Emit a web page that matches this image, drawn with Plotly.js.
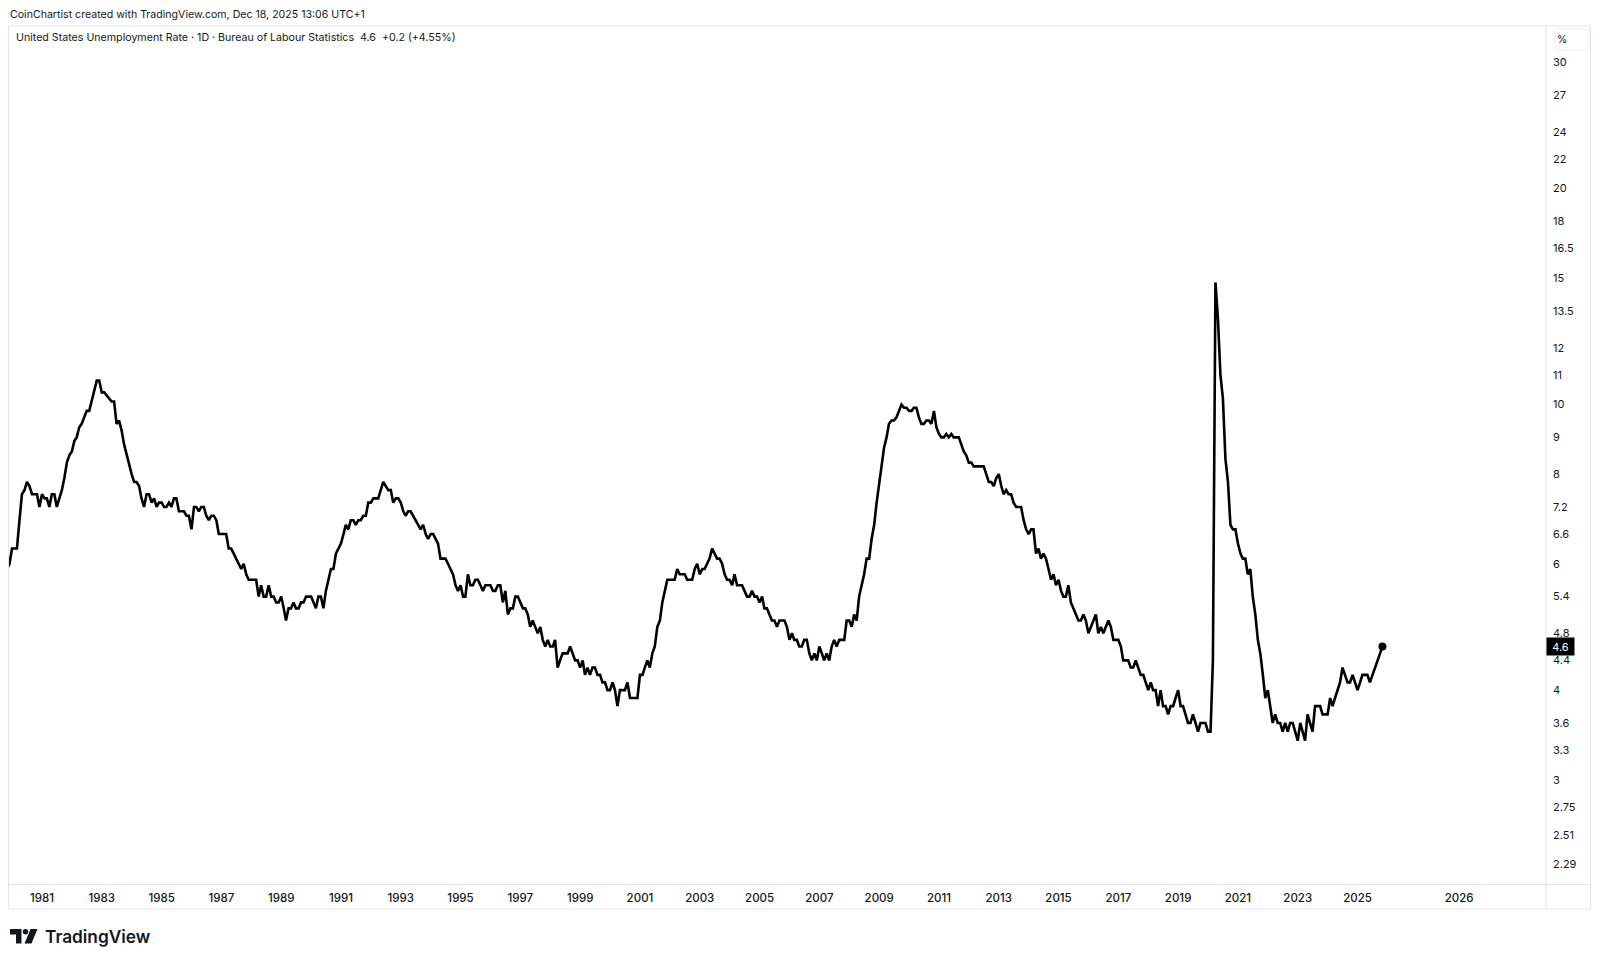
<!DOCTYPE html>
<html>
<head>
<meta charset="utf-8">
<script src="https://cdn.plot.ly/plotly-3.0.1.min.js"></script>
<style>
html,body{margin:0;padding:0;background:#fff;}
#chart{width:1600px;height:962px;}
</style>
</head>
<body>
<div id="chart"></div>
<script>
// Monthly US unemployment rate (%), each array starts in January of its first year
const rates1979to1989 = [
 5.9,5.9,5.8,5.8,5.6,5.7,5.7,6.0,5.9,6.0,5.9,6.0,
 6.3,6.3,6.3,6.9,7.5,7.6,7.8,7.7,7.5,7.5,7.5,7.2,
 7.5,7.4,7.4,7.2,7.5,7.5,7.2,7.4,7.6,7.9,8.3,8.5,
 8.6,8.9,9.0,9.3,9.4,9.6,9.8,9.8,10.1,10.4,10.8,10.8,
 10.4,10.4,10.3,10.2,10.1,10.1,9.4,9.5,9.2,8.8,8.5,8.3,
 8.0,7.8,7.8,7.7,7.4,7.2,7.5,7.5,7.3,7.4,7.2,7.3,
 7.3,7.2,7.2,7.3,7.2,7.4,7.4,7.1,7.1,7.1,7.0,7.0,
 6.7,7.2,7.2,7.1,7.2,7.2,7.0,6.9,7.0,7.0,6.9,6.6,
 6.6,6.6,6.6,6.3,6.3,6.2,6.1,6.0,5.9,6.0,5.8,5.7,
 5.7,5.7,5.7,5.4,5.6,5.4,5.4,5.6,5.4,5.4,5.3,5.3,
 5.4,5.2,5.0,5.2,5.2,5.3,5.2,5.2,5.3,5.3,5.4,5.4
];
const rates1990to1999 = [
 5.4,5.3,5.2,5.4,5.4,5.2,5.5,5.7,5.9,5.9,6.2,6.3,
 6.4,6.6,6.8,6.7,6.9,6.9,6.8,6.9,6.9,7.0,7.0,7.3,
 7.3,7.4,7.4,7.4,7.6,7.8,7.7,7.6,7.6,7.3,7.4,7.4,
 7.3,7.1,7.0,7.1,7.1,7.0,6.9,6.8,6.7,6.8,6.6,6.5,
 6.6,6.6,6.5,6.4,6.1,6.1,6.1,6.0,5.9,5.8,5.6,5.5,
 5.6,5.4,5.4,5.8,5.6,5.6,5.7,5.7,5.6,5.5,5.6,5.6,
 5.6,5.5,5.5,5.6,5.6,5.3,5.5,5.1,5.2,5.2,5.4,5.4,
 5.3,5.2,5.2,5.1,4.9,5.0,4.9,4.8,4.9,4.7,4.6,4.7,
 4.6,4.6,4.7,4.3,4.4,4.5,4.5,4.5,4.6,4.5,4.4,4.4,
 4.3,4.4,4.2,4.3,4.2,4.3,4.3,4.2,4.2,4.1,4.1,4.0
];
const rates2000to2009 = [
 4.0,4.1,4.0,3.8,4.0,4.0,4.0,4.1,3.9,3.9,3.9,3.9,
 4.2,4.2,4.3,4.4,4.3,4.5,4.6,4.9,5.0,5.3,5.5,5.7,
 5.7,5.7,5.7,5.9,5.8,5.8,5.8,5.7,5.7,5.7,5.9,6.0,
 5.8,5.9,5.9,6.0,6.1,6.3,6.2,6.1,6.1,6.0,5.8,5.7,
 5.7,5.6,5.8,5.6,5.6,5.6,5.5,5.4,5.4,5.5,5.4,5.4,
 5.3,5.4,5.2,5.2,5.1,5.0,5.0,4.9,5.0,5.0,5.0,4.9,
 4.7,4.8,4.7,4.7,4.6,4.6,4.7,4.7,4.5,4.4,4.5,4.4,
 4.6,4.5,4.4,4.5,4.4,4.6,4.7,4.6,4.7,4.7,4.7,5.0,
 5.0,4.9,5.1,5.0,5.4,5.6,5.8,6.1,6.1,6.5,6.8,7.3,
 7.8,8.3,8.7,9.0,9.4,9.5,9.5,9.6,9.8,10.0,9.9,9.9
];
const rates2010to2019 = [
 9.8,9.8,9.9,9.9,9.6,9.4,9.4,9.5,9.5,9.4,9.8,9.3,
 9.1,9.0,9.0,9.1,9.0,9.1,9.0,9.0,9.0,8.8,8.6,8.5,
 8.3,8.3,8.2,8.2,8.2,8.2,8.2,8.0,7.8,7.8,7.7,7.9,
 8.0,7.7,7.5,7.6,7.5,7.5,7.3,7.2,7.2,7.2,6.9,6.7,
 6.6,6.7,6.7,6.2,6.3,6.1,6.2,6.1,5.9,5.7,5.8,5.6,
 5.7,5.5,5.4,5.4,5.6,5.3,5.2,5.1,5.0,5.0,5.1,5.0,
 4.8,4.9,5.0,5.1,4.8,4.9,4.8,4.9,5.0,4.9,4.7,4.7,
 4.7,4.6,4.4,4.4,4.4,4.3,4.3,4.4,4.3,4.2,4.2,4.1,
 4.0,4.1,4.0,4.0,3.8,4.0,3.8,3.8,3.7,3.8,3.8,3.9,
 4.0,3.8,3.8,3.7,3.6,3.6,3.7,3.6,3.5,3.6,3.6,3.6
];
// October 2025 was not published (null = no data point)
const rates2020to2025 = [
 3.5,3.5,4.4,14.8,13.2,11.0,10.2,8.4,7.8,6.8,6.7,6.7,
 6.4,6.2,6.1,6.1,5.8,5.9,5.4,5.1,4.7,4.5,4.2,3.9,
 4.0,3.8,3.6,3.7,3.6,3.6,3.5,3.6,3.5,3.6,3.6,3.5,
 3.4,3.6,3.5,3.4,3.7,3.6,3.5,3.8,3.8,3.8,3.7,3.7,
 3.7,3.9,3.8,3.9,4.0,4.1,4.3,4.2,4.1,4.1,4.2,4.1,
 4.0,4.1,4.2,4.2,4.2,4.1,4.2,4.3,4.4,null,4.6
];
const firstYear = 1979;

const yTickVals = [2.29,2.51,2.75,3,3.3,3.6,4,4.4,4.8,5.4,6,6.6,7.2,8,9,10,11,12,13.5,15,16.5,18,20,22,24,27,30];
const xTickYears = [1981,1983,1985,1987,1989,1991,1993,1995,1997,1999,2001,2003,2005,2007,2009,2011,2013,2015,2017,2019,2021,2023,2025];
const futureTickDate = '2028-05-25';
const futureTickLabel = '2026';

const titleText = 'United States Unemployment Rate · 1D · Bureau of Labour Statistics';
const lastValueText = '4.6';
const changeText = '+0.2 (+4.55%)';

// build series
const allRates = [].concat(rates1979to1989, rates1990to1999, rates2000to2009, rates2010to2019, rates2020to2025);
const xs = [], ys = [];
allRates.forEach((v, i) => {
  if (v === null) return;
  const yr = firstYear + Math.floor(i / 12);
  const m = (i % 12) + 1;
  xs.push(yr + '-' + String(m).padStart(2, '0') + '-01');
  ys.push(v);
});
const lastX = xs[xs.length - 1], lastY = ys[ys.length - 1];

// pixel helpers for decorations (plot area: x 9..1546, y 26..884)
const L = 9, R = 1546, T = 26, B = 884;
const px = x => (x - L) / (R - L);
const py = y => (B - y) / (B - T);

const FONT = 'Inter, "Open Sans", Roboto, sans-serif';
const TXT = '#131722';
const BORDER = '#e0e3eb';

const traces = [
  {x: xs, y: ys, type: 'scatter', mode: 'lines',
   line: {color: '#000', width: 2.6, shape: 'linear'}, hoverinfo: 'skip', showlegend: false},
  {x: [lastX], y: [lastY], type: 'scatter', mode: 'markers',
   marker: {color: '#000', size: 8}, hoverinfo: 'skip', showlegend: false}
];

function pathPx(pts) {
  return 'M' + pts.map(p => px(p[0]) + ',' + py(p[1])).join(' L') + ' Z';
}

const shapes = [
  {type: 'rect', xref: 'paper', yref: 'paper', x0: px(8.5), x1: px(1590.5), y0: py(26), y1: py(909),
   line: {color: BORDER, width: 1}},
  {type: 'line', xref: 'paper', yref: 'paper', x0: px(1546), x1: px(1546), y0: py(26), y1: py(909),
   line: {color: BORDER, width: 1}},
  {type: 'line', xref: 'paper', yref: 'paper', x0: px(8.5), x1: px(1590.5), y0: py(884.5), y1: py(884.5),
   line: {color: BORDER, width: 1}},
  // % box
  {type: 'rect', xref: 'paper', yref: 'paper', x0: px(1555), x1: px(1589), y0: py(29), y1: py(50),
   line: {color: '#eef0f4', width: 1}},
  // TradingView logo
  {type: 'path', xref: 'paper', yref: 'paper', fillcolor: TXT, line: {width: 0},
   path: pathPx([[10,929],[21.5,929],[21.5,943.5],[16,943.5],[16,934.5],[10,934.5]])},
  {type: 'circle', xref: 'paper', yref: 'paper', x0: px(22.8), x1: px(28.2), y0: py(929), y1: py(934.4),
   fillcolor: TXT, line: {width: 0}},
  {type: 'path', xref: 'paper', yref: 'paper', fillcolor: TXT, line: {width: 0},
   path: pathPx([[30.5,929],[37.5,929],[31.5,943.5],[24.5,943.5]])}
];

const annotations = [
  {xref: 'paper', yref: 'paper', x: px(8), y: py(14), xanchor: 'left', yanchor: 'middle', showarrow: false,
   text: 'CoinChartist created with TradingView.com, Dec 18, 2025 13:06 UTC+1',
   font: {family: FONT, size: 10.6, color: TXT}},
  {xref: 'paper', yref: 'paper', x: px(14), y: py(38), xanchor: 'left', yanchor: 'middle', showarrow: false,
   text: titleText + '&nbsp;&nbsp;' + lastValueText + '&nbsp;&nbsp;' + changeText,
   font: {family: FONT, size: 10.65, color: TXT}},
  {xref: 'paper', yref: 'paper', x: px(1562), y: py(39.5), xanchor: 'center', yanchor: 'middle', showarrow: false,
   text: '%', font: {family: FONT, size: 10.5, color: TXT}},
  {xref: 'paper', yref: 'y', x: px(1546), y: Math.log10(lastY), xanchor: 'left', yanchor: 'middle', showarrow: false,
   text: lastValueText, bgcolor: '#000', borderpad: 1.5, font: {family: FONT, size: 11, color: '#fff'},
   width: 24},
  {xref: 'paper', yref: 'paper', x: px(43), y: py(936), xanchor: 'left', yanchor: 'middle', showarrow: false,
   text: 'TradingView', font: {family: FONT, size: 17.3, color: TXT, weight: 600}}
];

const layout = {
  width: 1600, height: 962,
  margin: {l: L, r: 1600 - R, t: T, b: 962 - B, pad: 0},
  paper_bgcolor: '#fff', plot_bgcolor: '#fff',
  showlegend: false,
  xaxis: {
    type: 'date', range: ['1979-11-25', '2031-04-22'],
    tickmode: 'array',
    tickvals: xTickYears.map(y => y + '-01-01').concat([futureTickDate]),
    ticktext: xTickYears.map(String).concat([futureTickLabel]),
    showgrid: false, zeroline: false, showline: false, ticks: '',
    ticklabelstandoff: 5,
    tickfont: {family: FONT, size: 11.5, color: TXT, weight: 500},
    fixedrange: true
  },
  yaxis: {
    type: 'log', side: 'right',
    range: [Math.log10(2.147), Math.log10(33.7)],
    tickmode: 'array', tickvals: yTickVals, ticktext: yTickVals.map(String),
    showgrid: false, zeroline: false, showline: false, ticks: '',
    ticklabelstandoff: 6,
    tickfont: {family: FONT, size: 11, color: TXT},
    fixedrange: true
  },
  shapes: shapes,
  annotations: annotations
};

Plotly.newPlot('chart', traces, layout, {staticPlot: true, displayModeBar: false});
</script>
</body>
</html>
